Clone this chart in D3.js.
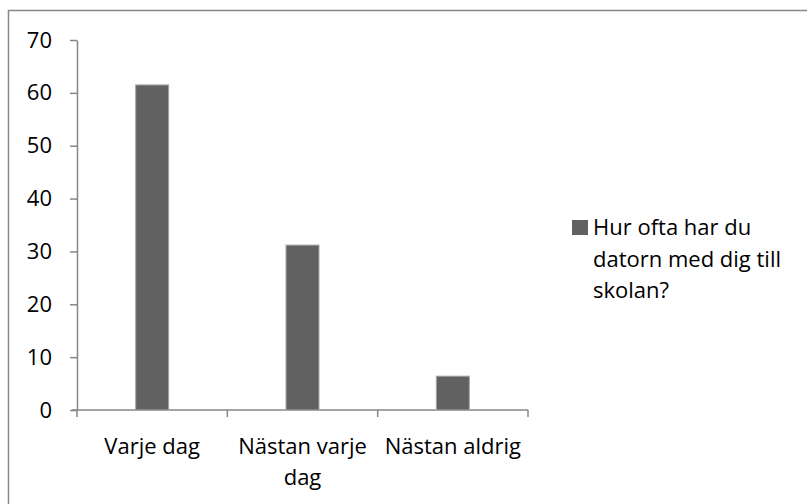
<!DOCTYPE html>
<html>
<head>
<meta charset="utf-8">
<script src="https://cdn.jsdelivr.net/npm/d3@7"></script>
<style>
  body { margin: 0; background: #fff; }
  text { font-family: "Open Sans", sans-serif; fill: #000; }
</style>
</head>
<body>
<div id="chart"></div>
<script>
// data
var categories = [["Varje dag"], ["Nästan varje", "dag"], ["Nästan aldrig"]];
var values = [61.5, 31.2, 6.4];
var yTicks = [0, 10, 20, 30, 40, 50, 60, 70];
var seriesName = ["Hur ofta har du", "datorn med dig till", "skolan?"];

var width = 807, height = 504;
var margin = { top: 40, left: 77, right: 279, bottom: 94 };

var svg = d3.select("#chart").append("svg")
  .attr("width", width)
  .attr("height", height);

// outer chart border (runs off the right and bottom edges)
svg.append("rect")
  .attr("x", 8.5).attr("y", 10.5)
  .attr("width", 810).attr("height", 510)
  .attr("fill", "none")
  .attr("stroke", "#888")
  .attr("stroke-width", 1.5);

var x = d3.scaleBand()
  .domain(d3.range(categories.length))
  .range([margin.left, width - margin.right]);

var y = d3.scaleLinear()
  .domain([0, 70])
  .range([height - margin.bottom, margin.top]);

// y axis
var yAxis = svg.append("g")
  .attr("transform", "translate(" + margin.left + ",0)")
  .call(d3.axisLeft(y).tickValues(yTicks).tickSize(7).tickSizeOuter(0).tickPadding(18));
yAxis.select(".domain").attr("stroke", "#868686").attr("stroke-width", 1.5);
yAxis.selectAll(".tick line").attr("stroke", "#868686").attr("stroke-width", 1.5);
yAxis.selectAll(".tick text").style("font-size", "22px").attr("fill", "#000");

// x axis
var xAxis = svg.append("g")
  .attr("transform", "translate(0," + y(0) + ")");
xAxis.append("line")
  .attr("x1", x.range()[0] - 5).attr("x2", x.range()[1])
  .attr("stroke", "#868686").attr("stroke-width", 1.5);
xAxis.selectAll(".xtick")
  .data(d3.range(categories.length + 1))
  .enter().append("line")
  .attr("x1", function (d) { return margin.left + d * x.step(); })
  .attr("x2", function (d) { return margin.left + d * x.step(); })
  .attr("y1", 0).attr("y2", 7)
  .attr("stroke", "#868686").attr("stroke-width", 1.5);

// category labels
svg.selectAll(".xlabel")
  .data(categories)
  .enter().append("text")
  .attr("class", "xlabel")
  .attr("text-anchor", "middle")
  .style("font-size", "22px")
  .each(function (d, i) {
    d3.select(this).selectAll("tspan")
      .data(d)
      .enter().append("tspan")
      .attr("x", x(i) + x.bandwidth() / 2)
      .attr("y", function (t, j) { return y(0) + 44 + j * 31; })
      .text(function (t) { return t; });
  });

// bars
var barW = 33;
svg.selectAll(".bar")
  .data(values)
  .enter().append("rect")
  .attr("class", "bar")
  .attr("x", function (d, i) { return x(i) + x.bandwidth() / 2 - barW / 2; })
  .attr("y", function (d) { return y(d); })
  .attr("width", barW)
  .attr("height", function (d) { return y(0) - y(d); })
  .attr("fill", "#616161")
  .attr("stroke", "#a6a6a6")
  .attr("stroke-width", 1);

// legend
var legend = svg.append("g");
legend.append("rect")
  .attr("x", 572).attr("y", 220)
  .attr("width", 16).attr("height", 15)
  .attr("fill", "#616161");
legend.append("text")
  .style("font-size", "22px")
  .selectAll("tspan")
  .data(seriesName)
  .enter().append("tspan")
  .attr("x", 593)
  .attr("y", function (d, i) { return 235 + i * 31.5; })
  .text(function (d) { return d; });
</script>
</body>
</html>
